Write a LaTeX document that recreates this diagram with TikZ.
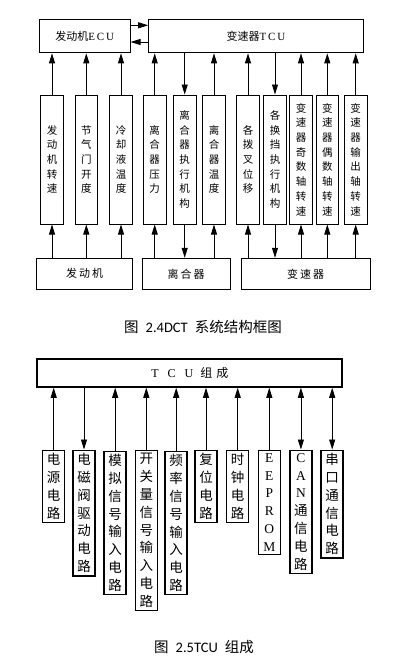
\documentclass[tikz,border=0pt]{standalone}
\usepackage{fontspec}
\setmainfont{Liberation Serif}
\newfontfamily\cjk{Noto Sans CJK SC}
\newfontfamily\capfont{Carlito}
\usetikzlibrary{arrows.meta}
\begin{document}
\begin{tikzpicture}[x=1pt,y=-1pt,
 arr/.style={-{Triangle[length=10pt,width=6pt]}, line width=0.8pt},
 barr/.style={{Triangle[length=10pt,width=6pt]}-{Triangle[length=10pt,width=6pt]}, line width=0.8pt},
 tbox/.style={draw, line width=1pt, inner sep=0pt, font=\fontsize{11}{13}\selectfont},
 sbox/.style={draw, line width=1pt, minimum width=22.6pt, minimum height=129pt, inner sep=0pt, align=center, font=\cjk\fontsize{10.5}{14.7}\selectfont},
 cbox/.style={draw, line width=1.5pt, text width=14pt, inner xsep=4pt, inner ysep=3.2pt, anchor=north, align=center, font=\cjk\fontsize{13.5}{17.8}\selectfont},
 capt/.style={font=\capfont\fontsize{14.5}{16}\selectfont, inner sep=0pt}]
\useasboundingbox (0,0) rectangle (418,661);
\fill[white] (0,0) rectangle (418,661);

% ---------- Figure 2.4 ----------
\node[tbox, minimum width=90.7pt, minimum height=33.7pt] (ecu) at (84.7,36) {{\cjk 发动机}E\,C\,U};
\node[tbox, minimum width=214.6pt, minimum height=33.7pt] (tcu) at (256,36) {{\cjk 变速器}T\,C\,U};
\draw[arr] ([yshift=10.7pt]ecu.east) -- ([yshift=10.7pt]tcu.west);
\draw[arr] ([yshift=-6pt]tcu.west) -- ([yshift=-6pt]ecu.east);

\node[tbox, minimum width=96pt, minimum height=31pt, font=\cjk\fontsize{11}{13}\selectfont] (eng) at (84.7,273.8) {发\kern2pt 动\kern2pt 机};
\node[tbox, minimum width=87.7pt, minimum height=31pt, font=\cjk\fontsize{11}{13}\selectfont] (clu) at (186.2,273.8) {离\kern2pt 合\kern2pt 器};
\node[tbox, minimum width=128.7pt, minimum height=31pt, font=\cjk\fontsize{11}{13}\selectfont] (gbx) at (305.7,273.8) {变\kern2pt 速\kern2pt 器};

\node[sbox] (s1) at (52,159.5) {发\\动\\机\\转\\速};
\node[sbox] (s2) at (86.3,159.5) {节\\气\\门\\开\\度};
\node[sbox] (s3) at (121,159.5) {冷\\却\\液\\温\\度};
\node[sbox] (s4) at (154.7,159.5) {离\\合\\器\\压\\力};
\node[sbox] (s5) at (184.7,159.5) {离\\合\\器\\执\\行\\机\\构};
\node[sbox] (s6) at (214,159.5) {离\\合\\器\\温\\度};
\node[sbox] (s7) at (248,159.5) {各\\拨\\叉\\位\\移};
\node[sbox] (s8) at (275,159.5) {各\\换\\挡\\执\\行\\机\\构};
\node[sbox] (s9) at (301,159.5) {变\\速\\器\\奇\\数\\轴\\转\\速};
\node[sbox] (s10) at (327.3,159.5) {变\\速\\器\\偶\\数\\轴\\转\\速};
\node[sbox] (s11) at (355.7,159.5) {变\\速\\器\\输\\出\\轴\\转\\速};

\foreach \s in {s1,s2,s3}{
  \draw[arr] (\s.north) -- (\s.north |- ecu.south);
  \draw[arr] (\s.south |- eng.north) -- (\s.south);
}
\foreach \s in {s4,s6}{
  \draw[arr] (\s.north) -- (\s.north |- tcu.south);
  \draw[arr] (\s.south |- clu.north) -- (\s.south);
}
\draw[arr] (s5.north |- tcu.south) -- (s5.north);
\draw[arr] (s5.south) -- (s5.south |- clu.north);
\foreach \s in {s7,s9,s10,s11}{
  \draw[arr] (\s.north) -- (\s.north |- tcu.south);
  \draw[arr] (\s.south |- gbx.north) -- (\s.south);
}
\draw[arr] (s8.north |- tcu.south) -- (s8.north);
\draw[arr] (s8.south) -- (s8.south |- gbx.north);

\node[capt] (cap1) at (203,326.7) {{\cjk 图}\hspace{7pt}2.4DCT\hspace{7pt}{\cjk 系统结构框图}};

% ---------- Figure 2.5 ----------
\node[draw, line width=2.2pt, minimum width=305pt, minimum height=27.7pt, inner sep=0pt, font=\fontsize{12}{14}\selectfont] (tcuz) at (189.8,372.8)
  {T\hspace{9pt}C\hspace{9pt}U\hspace{7pt}{\cjk 组\hspace{4pt}成}};

\node[cbox] (c1) at (53.7,449.5) {电\\源\\电\\路};
\node[cbox] (c2) at (84,449.5) {电\\磁\\阀\\驱\\动\\电\\路};
\node[cbox] (c3) at (115.2,450.5) {模\\拟\\信\\号\\输\\入\\电\\路};
\node[cbox] (c4) at (146.3,449.5) {开\\关\\量\\信\\号\\输\\入\\电\\路};
\node[cbox] (c5) at (176.2,450.5) {频\\率\\信\\号\\输\\入\\电\\路};
\node[cbox] (c6) at (206,449.5) {复\\位\\电\\路};
\node[cbox] (c7) at (237.7,449.5) {时\\钟\\电\\路};
\node[cbox, font=\rmfamily\fontsize{13.5}{17.8}\selectfont] (c8) at (269.3,449.5) {E\\E\\P\\R\\O\\M};
\node[cbox] (c9) at (300.9,449.5) {{\rmfamily C}\\{\rmfamily A}\\{\rmfamily N}\\通\\信\\电\\路};
\node[cbox] (c10) at (332.2,449.5) {串\\口\\通\\信\\电\\路};

\foreach \c in {c1,c3,c4,c5,c6,c7,c8}{
  \draw[arr] (\c.north) -- (\c.north |- tcuz.south);
}
\draw[arr] (c2.north |- tcuz.south) -- (c2.north);
\draw[barr] (c9.north) -- (c9.north |- tcuz.south);
\draw[barr] (c10.north) -- (c10.north |- tcuz.south);

\node[capt] (cap2) at (204,646.7) {{\cjk 图}\hspace{7pt}2.5TCU\hspace{7pt}{\cjk 组成}};
\end{tikzpicture}
\end{document}
